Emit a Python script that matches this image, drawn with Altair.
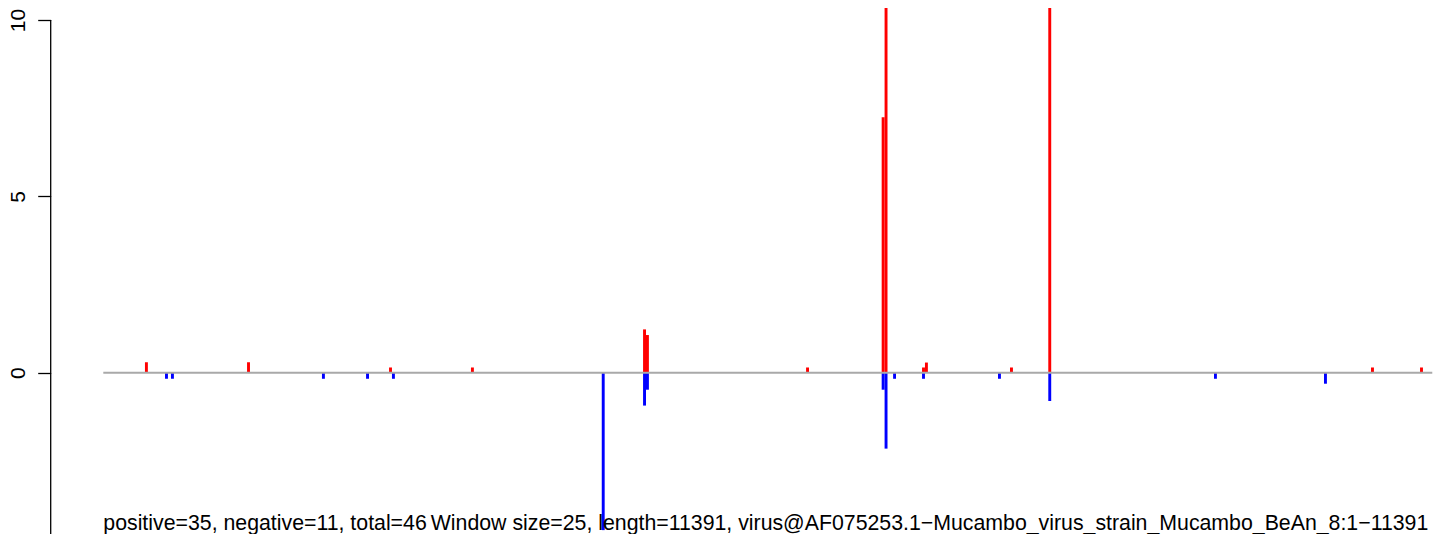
import altair as alt
import pandas as pd

# ---- data ----
WINDOW = 25
SEQ_LEN = 11391
starts = [358, 530, 581, 1233, 1875, 2253, 2450, 2475, 3152, 4273, 4627, 4652,
          6024, 6672, 6697, 6770, 7018, 7043, 7669, 7772, 8100, 9520, 10463,
          10866, 11286]
pos_vals = [0.30, 0, 0, 0.30, 0, 0, 0.15, 0, 0.15, 0, 1.23, 1.07,
            0.15, 7.24, 12.5, 0, 0.15, 0.29, 0, 0.15, 12.5, 0, 0,
            0.15, 0.15]
neg_vals = [0, -0.17, -0.17, 0, -0.17, -0.17, 0, -0.17, 0, -4.46, -0.93, -0.48,
            0, -0.48, -2.15, -0.17, -0.17, 0, -0.17, 0, -0.80, -0.17, -0.31,
            0, 0]
y_ticks = [10, 5, 0, -5]
left_text = "positive=35, negative=11, total=46"
right_text = ("Window size=25, length=11391, virus@AF075253.1\u2212"
              "Mucambo_virus_strain_Mucambo_BeAn_8:1\u221211391")

FONT = "Liberation Sans"
W, H = 1390.3, 526

df = pd.DataFrame({"start": starts, "pos": pos_vals, "neg": neg_vals})
df["end"] = df["start"] + WINDOW
df["zero"] = 0.0
pos_df = df[df["pos"] > 0]
neg_df = df[df["neg"] < 0]

xs = alt.Scale(domain=[-449.8, 11465.7], nice=False, zero=False)
ys = alt.Scale(domain=[-4.57, 10.34], nice=False, zero=False)

yaxis = alt.Axis(values=y_ticks, title=None, grid=False, domain=False,
                 labelAngle=-90, labelAlign="center", labelBaseline="alphabetic",
                 labelPadding=13, tickSize=13, tickWidth=1.3, tickColor="black",
                 labelFont=FONT, labelFontSize=21, labelColor="black")

pos_bars = alt.Chart(pos_df).mark_rect(color="#FF0000", clip=True).encode(
    x=alt.X("start:Q", scale=xs, axis=None),
    x2="end:Q",
    y=alt.Y("zero:Q", scale=ys, axis=yaxis),
    y2="pos:Q",
)
neg_bars = alt.Chart(neg_df).mark_rect(color="#0000FF", clip=True).encode(
    x=alt.X("start:Q", scale=xs, axis=None),
    x2="end:Q",
    y=alt.Y("zero:Q", scale=ys),
    y2="neg:Q",
)

zero_line = alt.Chart(pd.DataFrame({"x": [1], "x2": [SEQ_LEN], "y": [0]})).mark_rule(
    color="#A9A9A9", strokeWidth=2).encode(
    x=alt.X("x:Q", scale=xs), x2="x2:Q", y=alt.Y("y:Q", scale=ys))

axis_line = alt.Chart(pd.DataFrame({"y": [max(y_ticks)]})).mark_rule(
    color="black", strokeWidth=1.3).encode(
    x=alt.value(0), y=alt.Y("y:Q", scale=ys), y2=alt.value(H))

txt_left = alt.Chart(pd.DataFrame({"x": [1], "t": [left_text]})).mark_text(
    align="left", baseline="alphabetic", font=FONT, fontSize=21.3, color="black").encode(
    x=alt.X("x:Q", scale=xs), y=alt.value(522), text="t:N")

txt_right = alt.Chart(pd.DataFrame({"x": [SEQ_LEN], "t": [right_text]})).mark_text(
    align="right", baseline="alphabetic", font=FONT, fontSize=21.3, color="black", dx=-4).encode(
    x=alt.X("x:Q", scale=xs), y=alt.value(522), text="t:N")

chart = alt.layer(pos_bars, neg_bars, zero_line, axis_line, txt_left, txt_right).properties(
    width=W, height=H,
    autosize=alt.AutoSizeParams(type="none"),
    padding={"left": 42.7, "top": 0, "right": 0, "bottom": 0},
).configure_view(stroke=None)

chart.save("out.html", embed_options={"renderer": "svg", "actions": False})
